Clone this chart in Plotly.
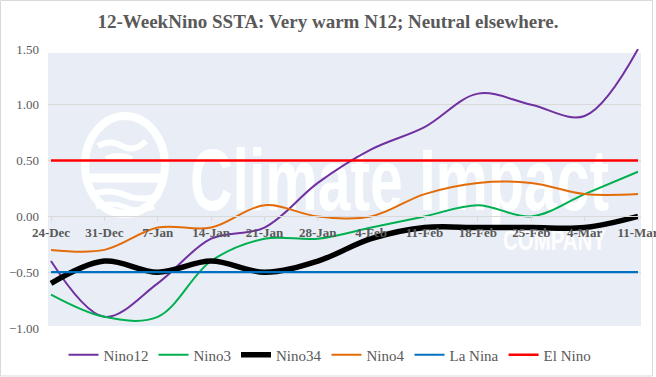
import base64
import plotly.graph_objects as go

weeks = ["24-Dec", "31-Dec", "7-Jan", "14-Jan", "21-Jan", "28-Jan",
         "4-Feb", "11-Feb", "18-Feb", "25-Feb", "4-Mar", "11-Mar"]
nino12 = [-0.4, -0.9, -0.6, -0.2, -0.1, 0.3, 0.6, 0.8, 1.1, 1.0, 0.9, 1.5]
nino3 = [-0.7, -0.9, -0.9, -0.4, -0.2, -0.2, -0.1, 0.0, 0.1, 0.0, 0.2, 0.4]
nino34 = [-0.6, -0.4, -0.5, -0.4, -0.5, -0.4, -0.2, -0.1, -0.1, -0.1, -0.1, 0.0]
nino4 = [-0.3, -0.3, -0.1, -0.1, 0.1, 0.0, 0.0, 0.2, 0.3, 0.3, 0.2, 0.2]
la_nina = [-0.5] * 12
el_nino = [0.5] * 12

series = [
    ("Nino12", nino12, "#7030A0", 2, "spline"),
    ("Nino3", nino3, "#00B050", 2, "spline"),
    ("Nino34", nino34, "#000000", 5.5, "spline"),
    ("Nino4", nino4, "#E36C09", 2, "spline"),
    ("La Nina", la_nina, "#0070C0", 2.2, "linear"),
    ("El Nino", el_nino, "#FF0000", 2.5, "linear"),
]

W, H = 656, 377
ML, MR, MT, MB = 48, 15, 49, 49
PW, PH = W - ML - MR, H - MT - MB

TXT = "#595959"
SERIF = "Liberation Serif"

# watermark background (blue panel + white logo/text), drawn beneath gridlines
svg = f'''<svg xmlns="http://www.w3.org/2000/svg" width="{PW}" height="{PH}" viewBox="0 0 {PW} {PH}">
<rect x="0" y="4" width="593" height="273" fill="#E9EEF6"/>
<g fill="none" stroke="#FFFFFF" stroke-opacity="0.95">
<ellipse cx="77" cy="116" rx="40" ry="49" stroke-width="8"/>
<path d="M50 97 Q62 90 74 97 T98 92" stroke-width="6"/>
<path d="M58 110 Q70 104 84 110" stroke-width="6"/>
<path d="M40 129 L114 129" stroke-width="9"/>
<path d="M42 146 Q60 139 77 146 T112 146" stroke-width="6"/>
<path d="M48 158 Q64 152 77 158 T106 158" stroke-width="5"/>
</g>
<text x="142" y="161" font-family="Liberation Sans, Arial, sans-serif" font-weight="bold" font-size="88" fill="#FFFFFF" fill-opacity="0.95" textLength="419" lengthAdjust="spacingAndGlyphs">Climate Impact</text>
<text x="455" y="201" font-family="Liberation Sans, Arial, sans-serif" font-weight="bold" font-size="30" fill="#FFFFFF" fill-opacity="0.95" textLength="103" lengthAdjust="spacingAndGlyphs">COMPANY</text>
</svg>'''
src = "data:image/svg+xml;base64," + base64.b64encode(svg.encode()).decode()

fig = go.Figure()
for name, vals, color, width, shape in series:
    fig.add_trace(go.Scatter(
        x=weeks, y=vals, name=name, mode="lines",
        line=dict(color=color, width=width, shape=shape, smoothing=1.0),
    ))

x0 = 3 / 53.36
fig.update_layout(
    width=W, height=H,
    margin=dict(l=ML, r=MR, t=MT, b=MB, autoexpand=False),
    paper_bgcolor="white",
    plot_bgcolor="rgba(0,0,0,0)",
    title=dict(
        text="<b>12-WeekNino SSTA: Very warm N12; Neutral elsewhere.</b>",
        font=dict(family=SERIF, size=19, color=TXT),
        x=328 / W, xanchor="center", xref="container",
        y=(H - 21) / H, yanchor="middle", yref="container",
    ),
    xaxis=dict(
        type="category", range=[-x0, 11 + x0],
        anchor="free", position=0.4, automargin=False,
        showline=True, linecolor="#D9D9D9", linewidth=1,
        ticks="outside", ticklen=4, tickcolor="#D9D9D9",
        showgrid=False, zeroline=False,
        tickfont=dict(family=SERIF, size=13, color=TXT, weight="bold"),
    ),
    yaxis=dict(
        range=[-1.0, 1.5], dtick=0.5, tickformat=".2f", automargin=False,
        showgrid=True, gridcolor="#D9D9D9", gridwidth=1,
        zeroline=False, showline=False, ticklabelstandoff=8,
        tickfont=dict(family=SERIF, size=13, color=TXT),
    ),
    legend=dict(
        orientation="h", x=(330 - ML) / PW, xanchor="center",
        y=-27 / PH, yanchor="middle",
        font=dict(family=SERIF, size=15, color=TXT),
        bgcolor="rgba(0,0,0,0)",
    ),
    images=[dict(
        source=src, xref="paper", yref="paper",
        x=0, y=1, sizex=1, sizey=1, xanchor="left", yanchor="top",
        sizing="stretch", layer="below",
    )],
    shapes=[dict(
        type="rect", xref="paper", yref="paper",
        x0=(0.5 - ML) / PW, x1=(652.5 - ML) / PW,
        y0=(MT + PH - 376) / PH, y1=(MT + PH - 0.5) / PH,
        line=dict(color="#D9D9D9", width=1), fillcolor="rgba(0,0,0,0)",
    )],
)

fig.write_html(
    "out.html",
    config={"displayModeBar": False},
    post_script="document.body.style.margin='0';document.body.style.overflow='hidden';",
)
